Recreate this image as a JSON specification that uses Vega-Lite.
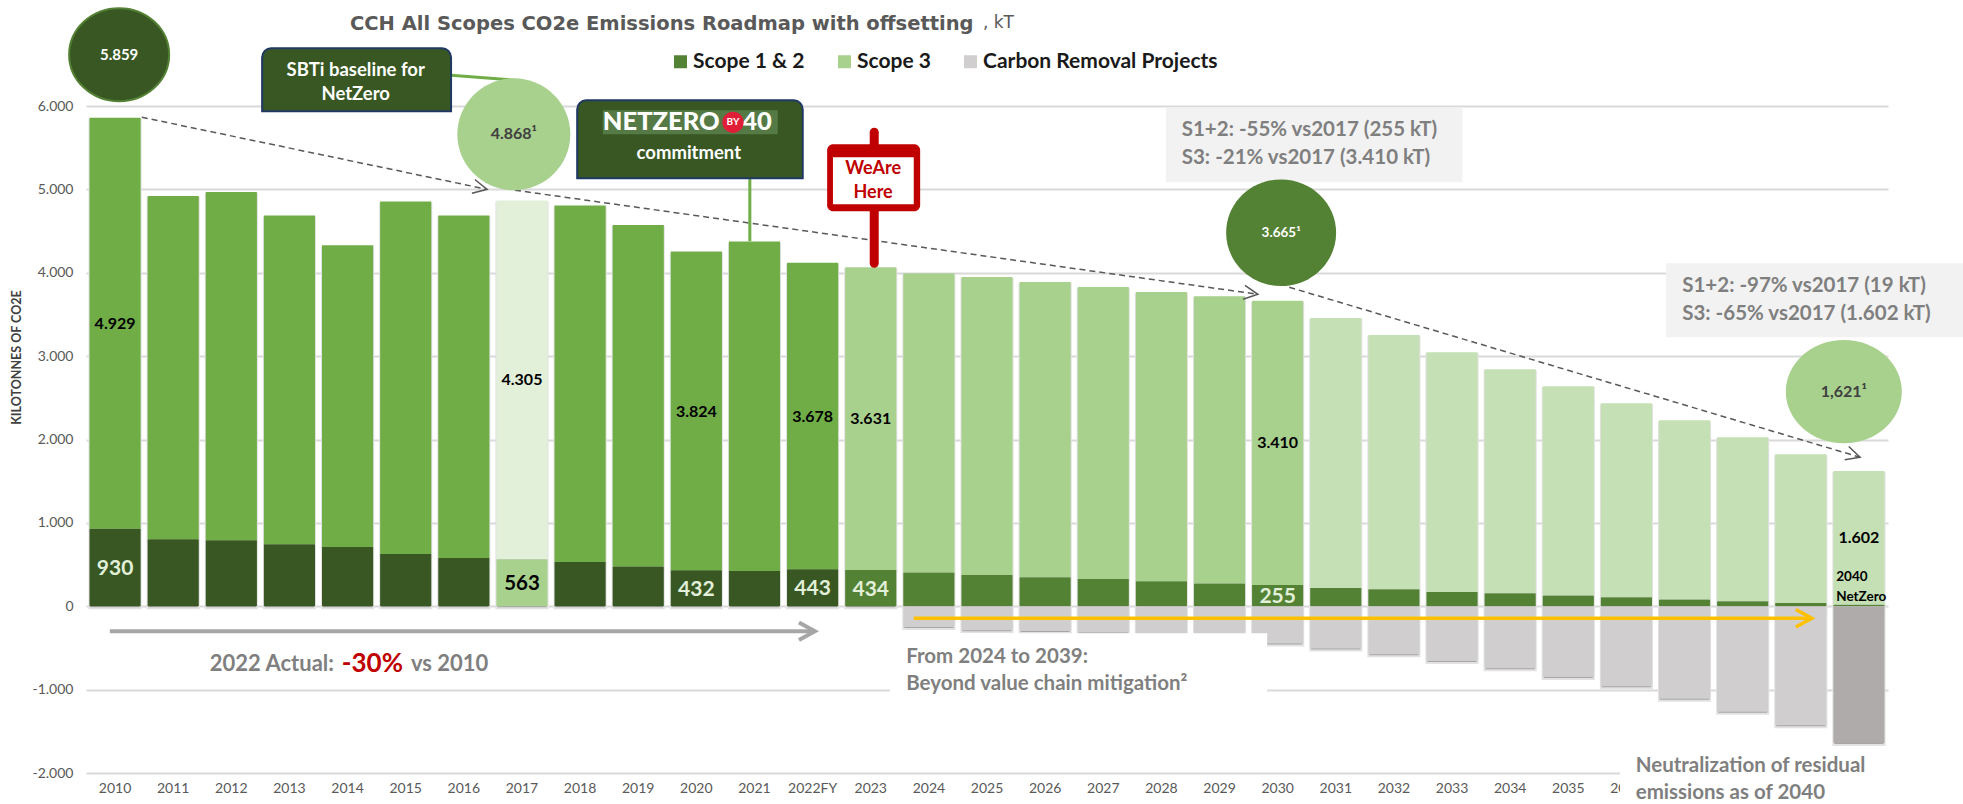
{
"$schema":"https://vega.github.io/schema/vega-lite/v6.json",
"width":1802,"height":667,
"autosize":"none",
"padding":{"left":86,"top":106,"right":75,"bottom":31},
"background":"#ffffff",
"title":{"text":"CCH All Scopes CO2e Emissions Roadmap with offsetting","anchor":"start","frame":"group","dx":264,"offset":-30,"font":"DejaVu Sans","fontSize":19.5,"fontWeight":"bold","color":"#595959"},
"config":{"view":{"stroke":null},"text":{"font":"Lato"}},
"resolve":{"scale":{"x":"independent"},"axis":{"y":"independent"}},
"datasets":{"bars":[
{"year":"2010","group":"Scope 1 & 2 actual","part":1,"value":930},{"year":"2010","group":"Scope 3 actual","part":2,"value":4929},
{"year":"2011","group":"Scope 1 & 2 actual","part":1,"value":803},{"year":"2011","group":"Scope 3 actual","part":2,"value":4117},
{"year":"2012","group":"Scope 1 & 2 actual","part":1,"value":791},{"year":"2012","group":"Scope 3 actual","part":2,"value":4177},
{"year":"2013","group":"Scope 1 & 2 actual","part":1,"value":743},{"year":"2013","group":"Scope 3 actual","part":2,"value":3945},
{"year":"2014","group":"Scope 1 & 2 actual","part":1,"value":711},{"year":"2014","group":"Scope 3 actual","part":2,"value":3618},
{"year":"2015","group":"Scope 1 & 2 actual","part":1,"value":627},{"year":"2015","group":"Scope 3 actual","part":2,"value":4229},
{"year":"2016","group":"Scope 1 & 2 actual","part":1,"value":580},{"year":"2016","group":"Scope 3 actual","part":2,"value":4108},
{"year":"2017","group":"Scope 1 & 2 baseline","part":1,"value":563},{"year":"2017","group":"Scope 3 baseline","part":2,"value":4305},
{"year":"2018","group":"Scope 1 & 2 actual","part":1,"value":532},{"year":"2018","group":"Scope 3 actual","part":2,"value":4276},
{"year":"2019","group":"Scope 1 & 2 actual","part":1,"value":476},{"year":"2019","group":"Scope 3 actual","part":2,"value":4096},
{"year":"2020","group":"Scope 1 & 2 actual","part":1,"value":432},{"year":"2020","group":"Scope 3 actual","part":2,"value":3824},
{"year":"2021","group":"Scope 1 & 2 actual","part":1,"value":424},{"year":"2021","group":"Scope 3 actual","part":2,"value":3952},
{"year":"2022FY","group":"Scope 1 & 2 actual","part":1,"value":443},{"year":"2022FY","group":"Scope 3 actual","part":2,"value":3678},
{"year":"2023","group":"Scope 1 & 2","part":1,"value":434},{"year":"2023","group":"Scope 3","part":2,"value":3631},
{"year":"2024","group":"Scope 1 & 2","part":1,"value":404},{"year":"2024","group":"Scope 3","part":2,"value":3589},{"year":"2024","group":"Carbon Removal Projects","part":3,"value":-248},
{"year":"2025","group":"Scope 1 & 2","part":1,"value":376},{"year":"2025","group":"Scope 3","part":2,"value":3572},{"year":"2025","group":"Carbon Removal Projects","part":3,"value":-288},
{"year":"2026","group":"Scope 1 & 2","part":1,"value":348},{"year":"2026","group":"Scope 3","part":2,"value":3541},{"year":"2026","group":"Carbon Removal Projects","part":3,"value":-296},
{"year":"2027","group":"Scope 1 & 2","part":1,"value":328},{"year":"2027","group":"Scope 3","part":2,"value":3501},{"year":"2027","group":"Carbon Removal Projects","part":3,"value":-316},
{"year":"2028","group":"Scope 1 & 2","part":1,"value":300},{"year":"2028","group":"Scope 3","part":2,"value":3470},{"year":"2028","group":"Carbon Removal Projects","part":3,"value":-345},
{"year":"2029","group":"Scope 1 & 2","part":1,"value":272},{"year":"2029","group":"Scope 3","part":2,"value":3445},{"year":"2029","group":"Carbon Removal Projects","part":3,"value":-375},
{"year":"2030","group":"Scope 1 & 2","part":1,"value":255},{"year":"2030","group":"Scope 3","part":2,"value":3410},{"year":"2030","group":"Carbon Removal Projects","part":3,"value":-448},
{"year":"2031","group":"Scope 1 & 2","part":1,"value":220},{"year":"2031","group":"Scope 3 to 2040","part":2,"value":3238},{"year":"2031","group":"Carbon Removal Projects","part":3,"value":-508},
{"year":"2032","group":"Scope 1 & 2","part":1,"value":204},{"year":"2032","group":"Scope 3 to 2040","part":2,"value":3050},{"year":"2032","group":"Carbon Removal Projects","part":3,"value":-576},
{"year":"2033","group":"Scope 1 & 2","part":1,"value":172},{"year":"2033","group":"Scope 3 to 2040","part":2,"value":2874},{"year":"2033","group":"Carbon Removal Projects","part":3,"value":-656},
{"year":"2034","group":"Scope 1 & 2","part":1,"value":156},{"year":"2034","group":"Scope 3 to 2040","part":2,"value":2686},{"year":"2034","group":"Carbon Removal Projects","part":3,"value":-744},
{"year":"2035","group":"Scope 1 & 2","part":1,"value":128},{"year":"2035","group":"Scope 3 to 2040","part":2,"value":2510},{"year":"2035","group":"Carbon Removal Projects","part":3,"value":-848},
{"year":"2036","group":"Scope 1 & 2","part":1,"value":108},{"year":"2036","group":"Scope 3 to 2040","part":2,"value":2326},{"year":"2036","group":"Carbon Removal Projects","part":3,"value":-960},
{"year":"2037","group":"Scope 1 & 2","part":1,"value":80},{"year":"2037","group":"Scope 3 to 2040","part":2,"value":2150},{"year":"2037","group":"Carbon Removal Projects","part":3,"value":-1108},
{"year":"2038","group":"Scope 1 & 2","part":1,"value":60},{"year":"2038","group":"Scope 3 to 2040","part":2,"value":1966},{"year":"2038","group":"Carbon Removal Projects","part":3,"value":-1264},
{"year":"2039","group":"Scope 1 & 2","part":1,"value":40},{"year":"2039","group":"Scope 3 to 2040","part":2,"value":1783},{"year":"2039","group":"Carbon Removal Projects","part":3,"value":-1428},
{"year":"2040","group":"Scope 1 & 2","part":1,"value":19},{"year":"2040","group":"Scope 3 to 2040","part":2,"value":1602},{"year":"2040","group":"Neutralization","part":3,"value":-1640}
]},
"layer":[
{
"data":{"name":"bars"},
"mark":{"type":"bar","fill":"#a6a6a6","stroke":"#e2e2e2","strokeWidth":2,"yOffset":2,"y2Offset":2},
"encoding":{
"x":{"field":"year","type":"nominal","sort":null,
"scale":{"domain":["2010","2011","2012","2013","2014","2015","2016","2017","2018","2019","2020","2021","2022FY","2023","2024","2025","2026","2027","2028","2029","2030","2031","2032","2033","2034","2035","2036","2037","2038","2039","2040"],"paddingInner":0.12,"paddingOuter":0.06},
"axis":{"title":null,"labelAngle":0,"ticks":false,"domain":false,"labelPadding":8,"labelFont":"Lato","labelFontSize":14,"labelColor":"#595959","grid":false,"labelExpr":"toNumber(datum.value)>=2037?'':datum.value"}},
"y":{"field":"value","type":"quantitative","stack":"zero",
"scale":{"domain":[-2000,6000],"nice":false},
"axis":{"title":"KILOTONNES OF CO2E","values":[-2000,-1000,0,1000,2000,3000,4000,5000,6000],"labelExpr":"replace(replace(format(datum.value,','),',','.'),'−','-')","ticks":false,"domain":false,"labelPadding":13,"labelFont":"Lato","labelFontSize":14,"labelColor":"#595959","grid":true,"gridColor":"#d9d9d9","gridWidth":2,"titleFont":"Lato","titleFontSize":12.5,"titleFontWeight":"bold","titleColor":"#404040","titleX":-63,"titleY":251}},
"detail":{"field":"part"},
"order":{"field":"part","type":"quantitative"}
}
},
{
"data":{"name":"bars"},
"mark":{"type":"bar"},
"encoding":{
"x":{"field":"year","type":"nominal","sort":null,
"scale":{"domain":["2010","2011","2012","2013","2014","2015","2016","2017","2018","2019","2020","2021","2022FY","2023","2024","2025","2026","2027","2028","2029","2030","2031","2032","2033","2034","2035","2036","2037","2038","2039","2040"],"paddingInner":0.12,"paddingOuter":0.06},
"axis":null},
"y":{"field":"value","type":"quantitative","stack":"zero","scale":{"domain":[-2000,6000],"nice":false},"axis":null},
"color":{"field":"group","type":"nominal",
"scale":{"domain":["Scope 1 & 2","Scope 3","Carbon Removal Projects","Scope 1 & 2 actual","Scope 3 actual","Scope 1 & 2 baseline","Scope 3 baseline","Scope 3 to 2040","Neutralization"],"range":["#548235","#a9d18e","#d0cece","#385723","#70ad47","#a9d18e","#e2f0d9","#c5e0b4","#afabab"]},
"legend":{"values":["Scope 1 & 2","Scope 3","Carbon Removal Projects"],"title":null,"orient":"none","legendX":584,"legendY":-55,"direction":"horizontal","symbolType":"square","symbolSize":169,"symbolStrokeWidth":0,"labelFont":"Lato","labelFontSize":21,"labelFontWeight":"bold","labelColor":"#1a1a1a","labelOffset":2,"columnPadding":29,"labelLimit":400}},
"order":{"field":"part","type":"quantitative"}
}
},
{
"encoding":{
"x":{"field":"x","type":"quantitative","scale":{"domain":[2009.5,2040.5],"nice":false,"zero":false},"axis":null},
"y":{"field":"y","type":"quantitative","scale":{"domain":[-2000,6000],"nice":false},"axis":null}
},
"layer":[
{"data":{"values":[{"x":2023.33,"x2":2029.82,"y":-324,"y2":-1247},{"x":2035.89,"x2":2041.0,"y":-1985,"y2":-2400}]},"mark":{"type":"rect","fill":"#ffffff"},"encoding":{"x2":{"field":"x2"},"y2":{"field":"y2"}}},
{"data":{"values":[{"x":2028.08,"x2":2033.18,"y":5985,"y2":5085},{"x":2036.68,"x2":2041.79,"y":4114,"y2":3226}]},"mark":{"type":"rect","fill":"#f2f2f2"},"encoding":{"x2":{"field":"x2"},"y2":{"field":"y2"}}},
{"data":{"values":[{"id":"a","x":2010.46,"y":5865},{"id":"a","x":2016.4,"y":5001},{"id":"b","x":2016.88,"y":4990},{"id":"b","x":2029.66,"y":3742},{"id":"c","x":2030.2,"y":3826},{"id":"c","x":2040.02,"y":1787}]},"mark":{"type":"line","stroke":"#595959","strokeWidth":1.5,"strokeDash":[6,4]},"encoding":{"detail":{"field":"id"}}},
{"data":{"values":[{"id":"a","x":2015.78,"y":6369},{"id":"a","x":2016.88,"y":6309},{"id":"b","x":2020.92,"y":5133},{"id":"b","x":2020.92,"y":4378}]},"mark":{"type":"line","stroke":"#70ad47","strokeWidth":3},"encoding":{"detail":{"field":"id"}}},
{"data":{"values":[{"x":2012.53,"x2":2015.78,"y":6693,"y2":5937},{"x":2017.95,"x2":2021.83,"y":6069,"y2":5133}]},"mark":{"type":"rect","fill":"#385723","stroke":"#1f3864","strokeWidth":2,"cornerRadiusTopLeft":9,"cornerRadiusTopRight":9},"encoding":{"x2":{"field":"x2"},"y2":{"field":"y2"}}},
{"data":{"values":[{"x":2018.39,"x2":2021.4,"y":5949,"y2":5661}]},"mark":{"type":"rect","fill":"#557a45"},"encoding":{"x2":{"field":"x2"},"y2":{"field":"y2"}}},
{"data":{"values":[{"x":2018.39,"y":5805,"text":"NETZERO"},{"x":2020.79,"y":5805,"text":"40"}]},"mark":{"type":"text","align":"left","baseline":"middle","fontSize":25.5,"fontWeight":900,"fill":"#ffffff"},"encoding":{"text":{"field":"text"}}},
{"data":{"values":[{"x":2020.63,"y":5805}]},"mark":{"type":"point","shape":"circle","filled":true,"fill":"#e01e37","opacity":1,"size":452},"encoding":{}},
{"data":{"values":[{"x":2020.63,"y":5805,"text":"BY"}]},"mark":{"type":"text","align":"center","baseline":"middle","fontSize":10,"fontWeight":"bold","fill":"#ffffff"},"encoding":{"text":{"field":"text"}}},
{"data":{"values":[{"x":2019.87,"y":5433,"text":"commitment"},{"x":2014.14,"y":6429,"text":"SBTi baseline for"},{"x":2014.14,"y":6141,"text":"NetZero"}]},"mark":{"type":"text","align":"center","baseline":"middle","fontSize":18.5,"fontWeight":"bold","fill":"#ffffff"},"encoding":{"text":{"field":"text"}}},
{"data":{"values":[{"x":2023.06,"y":5685},{"x":2023.06,"y":4114}]},"mark":{"type":"line","stroke":"#c00000","strokeWidth":9,"strokeCap":"round"},"encoding":{"order":{"field":"y"}}},
{"data":{"values":[{"x":2022.25,"x2":2023.85,"y":5541,"y2":4738}]},"mark":{"type":"rect","fill":"#c00000","cornerRadius":6},"encoding":{"x2":{"field":"x2"},"y2":{"field":"y2"}}},
{"data":{"values":[{"x":2022.35,"x2":2023.74,"y":5385,"y2":4822}]},"mark":{"type":"rect","fill":"#ffffff"},"encoding":{"x2":{"field":"x2"},"y2":{"field":"y2"}}},
{"data":{"values":[{"x":2023.04,"y":5241,"text":"WeAre"},{"x":2023.04,"y":4954,"text":"Here"}]},"mark":{"type":"text","align":"center","baseline":"middle","fontSize":18,"fontWeight":"bold","fill":"#c00000"},"encoding":{"text":{"field":"text"}}},
{"data":{"values":[{"x":2010.07,"y":6615}]},"mark":{"type":"point","shape":"M-1,0A1,0.93 0 1,1 1,0A1,0.93 0 1,1 -1,0Z","filled":true,"fill":"#385723","stroke":"#548235","strokeWidth":2,"opacity":1,"size":10000},"encoding":{}},
{"data":{"values":[{"x":2016.86,"y":5661}]},"mark":{"type":"point","shape":"M-1,0A1,0.99 0 1,1 1,0A1,0.99 0 1,1 -1,0Z","filled":true,"fill":"#a9d18e","opacity":1,"size":12769},"encoding":{}},
{"data":{"values":[{"x":2030.06,"y":4480}]},"mark":{"type":"point","shape":"M-1,0A1,0.97 0 1,1 1,0A1,0.97 0 1,1 -1,0Z","filled":true,"fill":"#548235","opacity":1,"size":12100},"encoding":{}},
{"data":{"values":[{"x":2039.74,"y":2573}]},"mark":{"type":"point","shape":"M-1,0A1,0.89 0 1,1 1,0A1,0.89 0 1,1 -1,0Z","filled":true,"fill":"#a9d18e","opacity":1,"size":13456},"encoding":{}},
{"data":{"values":[{"x":2010.07,"y":6615,"text":"5.859"}]},"mark":{"type":"text","align":"center","baseline":"middle","fontSize":15,"fontWeight":"bold","fill":"#ffffff"},"encoding":{"text":{"field":"text"}}},
{"data":{"values":[{"x":2030.06,"y":4480,"text":"3.665¹"}]},"mark":{"type":"text","align":"center","baseline":"middle","fontSize":13.5,"fontWeight":"bold","fill":"#ffffff"},"encoding":{"text":{"field":"text"}}},
{"data":{"values":[{"x":2016.86,"y":5661,"text":"4.868¹"},{"x":2039.74,"y":2573,"text":"1,621¹"}]},"mark":{"type":"text","align":"center","baseline":"middle","fontSize":16,"fontWeight":"bold","fill":"#404040"},"encoding":{"text":{"field":"text"}}},
{"data":{"values":[{"x":2016.4,"y":5001}]},"mark":{"type":"point","shape":"M-1,-0.5L0,0L-1,0.5","filled":false,"stroke":"#595959","strokeWidth":1.5,"opacity":1,"size":784,"angle":12},"encoding":{}},
{"data":{"values":[{"x":2029.66,"y":3742}]},"mark":{"type":"point","shape":"M-1,-0.5L0,0L-1,0.5","filled":false,"stroke":"#595959","strokeWidth":1.5,"opacity":1,"size":784,"angle":8},"encoding":{}},
{"data":{"values":[{"x":2040.02,"y":1787}]},"mark":{"type":"point","shape":"M-1,-0.5L0,0L-1,0.5","filled":false,"stroke":"#595959","strokeWidth":1.5,"opacity":1,"size":784,"angle":17},"encoding":{}},
{"data":{"values":[{"x":2009.91,"y":-300},{"x":2022.04,"y":-300}]},"mark":{"type":"line","stroke":"#a6a6a6","strokeWidth":4},"encoding":{}},
{"data":{"values":[{"x":2022.04,"y":-300}]},"mark":{"type":"point","shape":"M-1,-0.55L0,0L-1,0.55","filled":false,"stroke":"#a6a6a6","strokeWidth":4,"opacity":1,"size":1024},"encoding":{}},
{"data":{"values":[{"x":2023.74,"y":-144},{"x":2039.19,"y":-144}]},"mark":{"type":"line","stroke":"#ffc000","strokeWidth":3.5},"encoding":{}},
{"data":{"values":[{"x":2039.19,"y":-144}]},"mark":{"type":"point","shape":"M-1,-0.55L0,0L-1,0.55","filled":false,"stroke":"#ffc000","strokeWidth":3.5,"opacity":1,"size":1024},"encoding":{}},
{"data":{"values":[{"x":2010,"y":3381,"text":"4.929"},{"x":2017,"y":2710,"text":"4.305"},{"x":2020,"y":2326,"text":"3.824"},{"x":2022,"y":2266,"text":"3.678"},{"x":2023,"y":2240,"text":"3.631"},{"x":2030,"y":1954,"text":"3.410"},{"x":2040,"y":815,"text":"1.602"}]},"mark":{"type":"text","align":"center","baseline":"middle","fontSize":16,"fontWeight":"bold","fill":"#000000"},"encoding":{"text":{"field":"text"}}},
{"data":{"values":[{"x":2010,"y":443,"text":"930"},{"x":2020,"y":192,"text":"432"},{"x":2022,"y":204,"text":"443"},{"x":2023,"y":192,"text":"434"},{"x":2030,"y":108,"text":"255"}]},"mark":{"type":"text","align":"center","baseline":"middle","fontSize":21,"fontWeight":"bold","fill":"#e2f0d9"},"encoding":{"text":{"field":"text"}}},
{"data":{"values":[{"x":2017,"y":264,"text":"563"}]},"mark":{"type":"text","align":"center","baseline":"middle","fontSize":20.5,"fontWeight":"bold","fill":"#000000"},"encoding":{"text":{"field":"text"}}},
{"data":{"values":[{"x":2039.61,"y":348,"text":"2040"},{"x":2039.61,"y":108,"text":"NetZero"}]},"mark":{"type":"text","align":"left","baseline":"middle","fontSize":13.5,"fontWeight":"bold","fill":"#000000"},"encoding":{"text":{"field":"text"}}},
{"data":{"values":[{"x":2028.35,"y":5709,"text":"S1+2: -55% vs2017 (255 kT)"},{"x":2028.35,"y":5373,"text":"S3: -21% vs2017 (3.410 kT)"},{"x":2036.96,"y":3838,"text":"S1+2: -97% vs2017 (19 kT)"},{"x":2036.96,"y":3502,"text":"S3: -65% vs2017 (1.602 kT)"},{"x":2023.61,"y":-612,"text":"From 2024 to 2039:"},{"x":2023.61,"y":-936,"text":"Beyond value chain mitigation²"},{"x":2036.16,"y":-1919,"text":"Neutralization of residual"},{"x":2036.16,"y":-2243,"text":"emissions as of 2040"}]},"mark":{"type":"text","align":"left","baseline":"middle","fontSize":20.5,"fontWeight":"bold","fill":"#7f7f7f"},"encoding":{"text":{"field":"text"}}},
{"data":{"values":[{"x":2011.63,"y":-696,"text":"2022 Actual:"},{"x":2015.09,"y":-696,"text":"vs 2010"}]},"mark":{"type":"text","align":"left","baseline":"middle","fontSize":22,"fontWeight":"bold","fill":"#7f7f7f"},"encoding":{"text":{"field":"text"}}},
{"data":{"values":[{"x":2013.9,"y":-696,"text":"-30%"}]},"mark":{"type":"text","align":"left","baseline":"middle","fontSize":26,"fontWeight":"bold","fill":"#c00000"},"encoding":{"text":{"field":"text"}}},
{"data":{"values":[{"x":2024.93,"y":6992,"text":", kT"}]},"mark":{"type":"text","align":"left","baseline":"middle","font":"DejaVu Sans","fontSize":17,"fill":"#595959"},"encoding":{"text":{"field":"text"}}}
]
}
]
}
